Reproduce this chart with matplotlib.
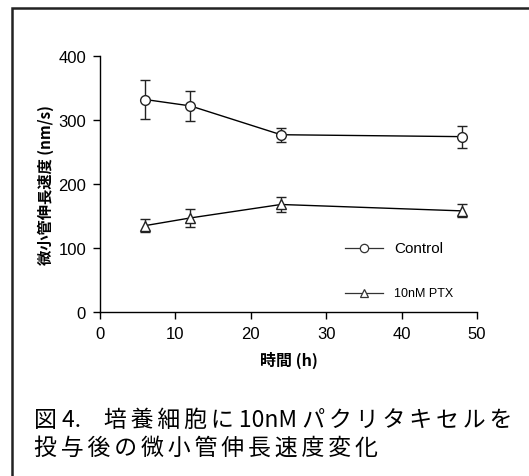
import matplotlib
matplotlib.use("Agg")
import matplotlib.pyplot as plt
import matplotlib.patches as mpatches

# datos
tiempos = [6, 12, 24, 48]
control = [332, 322, 277, 274]
control_err = [30, 24, 11, 17]
ptx = [135, 147, 168, 158]
ptx_err = [10, 14, 12, 10]

fuente_num = ["Liberation Sans", "DejaVu Sans"]
fuente_jp = ["Noto Sans CJK JP", "DejaVu Sans"]

fig = plt.figure(figsize=(5.29, 4.77), dpi=100)
ax = fig.add_axes([100 / 529, 164 / 477, 377 / 529, 256 / 477])

estilo = dict(color="black", ecolor="#222222", elinewidth=1.0, capsize=3.5,
              capthick=1.0, lw=1.0, markersize=7, markerfacecolor="white",
              markeredgecolor="#222222", markeredgewidth=1.0)
ax.errorbar(tiempos, control, yerr=control_err, marker="o", **estilo)
ax.errorbar(tiempos, ptx, yerr=ptx_err, marker="^", **estilo)

ax.set_xlim(0, 50)
ax.set_ylim(0, 400)
ax.set_xticks([0, 10, 20, 30, 40, 50])
ax.set_yticks([0, 100, 200, 300, 400])
ax.spines["top"].set_visible(False)
ax.spines["right"].set_visible(False)
for s in ["left", "bottom"]:
    ax.spines[s].set_linewidth(1.0)
ax.tick_params(direction="out", length=5, width=1.0, pad=5)
for lab in ax.get_xticklabels() + ax.get_yticklabels():
    lab.set_family(fuente_num)
    lab.set_fontsize(12)

ax.set_xlabel("時間 (h)", family=fuente_jp, fontweight="bold", fontsize=11.5, labelpad=7)
ax.set_ylabel("微小管伸長速度 (nm/s)", family=fuente_jp, fontweight="bold", fontsize=11, labelpad=3)

# leyenda manual
ax.plot([32.5, 37.5], [100, 100], color="#333333", lw=0.9)
ax.plot([35], [100], marker="o", markersize=6, markerfacecolor="white",
        markeredgecolor="#333333", markeredgewidth=0.9)
ax.text(39.0, 100, "Control", family=fuente_num, fontsize=11, va="center")
ax.plot([32.5, 37.5], [30, 30], color="#333333", lw=0.9)
ax.plot([35], [30], marker="^", markersize=6, markerfacecolor="white",
        markeredgecolor="#333333", markeredgewidth=0.9)
ax.text(39.0, 30, "10nM PTX", family=fuente_num, fontsize=9, va="center")

# titulo de la figura (con espaciado entre caracteres)
esp = "\u2006"
linea1 = "図 4.\u3000" + esp.join("培養細胞に") + " 10nM " + esp.join("パクリタキセルを")
linea2 = esp.join("投与後の微小管伸長速度変化")
fig.text(34 / 529, 1 - 420 / 477, linea1, family=fuente_jp, fontsize=16.5, va="center")
fig.text(34 / 529, 1 - 448 / 477, linea2, family=fuente_jp, fontsize=16.5, va="center")

# marco
marco = mpatches.Rectangle((11.5 / 529, -0.2), 1.2, 1 - 8.5 / 477 + 0.2,
                           transform=fig.transFigure, fill=False,
                           edgecolor="#222222", lw=1.8)
fig.patches.append(marco)

fig.savefig("out.png", dpi=100)
